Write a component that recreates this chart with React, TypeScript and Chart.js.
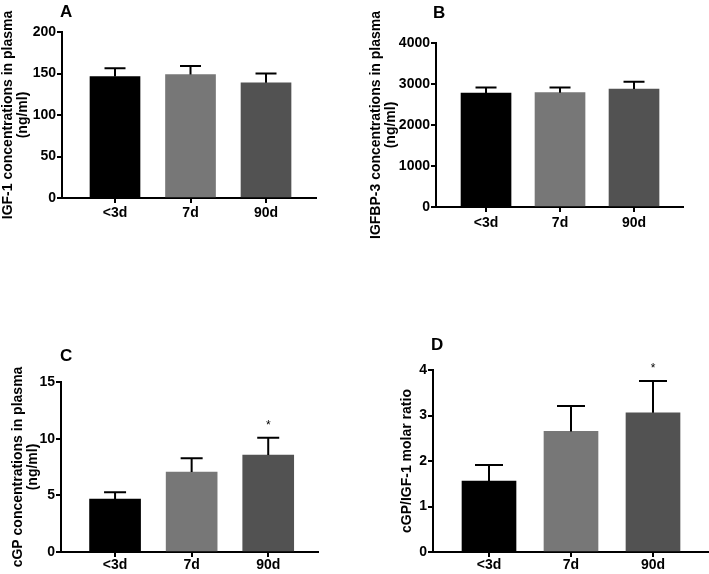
import React, { useEffect, useRef } from "react";
import { Chart, registerables } from "chart.js";

Chart.register(...registerables);

// ---------- data ----------
const categories = ["<3d", "7d", "90d"];
const barColors = ["#000000", "#777777", "#525252"];

const igf1Mean = [146.4, 148.8, 138.8];
const igf1Sem = [10.0, 10.2, 11.2];
const igf1Ticks = [0, 50, 100, 150, 200];

const igfbp3Mean = [2780, 2788, 2878];
const igfbp3Sem = [137, 129, 178];
const igfbp3Ticks = [0, 1000, 2000, 3000, 4000];

const cgpMean = [4.66, 7.06, 8.56];
const cgpSem = [0.62, 1.21, 1.52];
const cgpTicks = [0, 5, 10, 15];
const cgpSignificant = [false, false, true];

const ratioMean = [1.56, 2.65, 3.06];
const ratioSem = [0.35, 0.56, 0.7];
const ratioTicks = [0, 1, 2, 3, 4];
const ratioSignificant = [false, false, true];

const FONT = '"Liberation Sans", Arial, Helvetica, sans-serif';

type Panel = {
  letter: string;
  means: number[];
  sems: number[];
  sig: boolean[];
  yTicks: number[];
  yTitle: string[];
  box: { left: number; top: number; width: number; height: number };
  padTop: number;
  padRight: number;
  yAxisWidth: number;
  xAxisHeight: number;
  xMin: number;
  xMax: number;
  barThickness: number;
  capWidth: number;
  letterPos: [number, number];
  xLabelPad: number;
};

const panels: Panel[] = [
  {
    letter: "A",
    means: igf1Mean,
    sems: igf1Sem,
    sig: [false, false, false],
    yTicks: igf1Ticks,
    yTitle: ["IGF-1 concentrations in plasma", "(ng/ml)"],
    box: { left: 0, top: 0, width: 340, height: 240 },
    padTop: 32,
    padRight: 24,
    yAxisWidth: 62,
    xAxisHeight: 42,
    xMin: -0.702,
    xMax: 2.662,
    barThickness: 50,
    capWidth: 21,
    letterPos: [60, 17],
    xLabelPad: 2,
  },
  {
    letter: "B",
    means: igfbp3Mean,
    sems: igfbp3Sem,
    sig: [false, false, false],
    yTicks: igfbp3Ticks,
    yTitle: ["IGFBP-3 concentrations in plasma", "(ng/ml)"],
    box: { left: 368, top: 0, width: 341, height: 240 },
    padTop: 43,
    padRight: 26,
    yAxisWidth: 68,
    xAxisHeight: 33,
    xMin: -0.676,
    xMax: 2.662,
    barThickness: 50,
    capWidth: 21,
    letterPos: [65, 18],
    xLabelPad: 3,
  },
  {
    letter: "C",
    means: cgpMean,
    sems: cgpSem,
    sig: cgpSignificant,
    yTicks: cgpTicks,
    yTitle: ["cGP concentrations in plasma", "(ng/ml)"],
    box: { left: 10, top: 260, width: 330, height: 314 },
    padTop: 122,
    padRight: 22,
    yAxisWidth: 51,
    xAxisHeight: 22,
    xMin: -0.706,
    xMax: 2.65,
    barThickness: 51,
    capWidth: 22,
    letterPos: [50, 101],
    xLabelPad: 0,
  },
  {
    letter: "D",
    means: ratioMean,
    sems: ratioSem,
    sig: ratioSignificant,
    yTicks: ratioTicks,
    yTitle: ["cGP/IGF-1 molar ratio"],
    box: { left: 399, top: 260, width: 310, height: 314 },
    padTop: 110,
    padRight: 0,
    yAxisWidth: 34,
    xAxisHeight: 22,
    xMin: -0.683,
    xMax: 2.683,
    barThickness: 54,
    capWidth: 28,
    letterPos: [32, 90],
    xLabelPad: 0,
  },
];

function PanelChart({ p }: { p: Panel }) {
  const ref = useRef<HTMLCanvasElement>(null);

  useEffect(() => {
    const canvas = ref.current;
    if (!canvas) return;

    const overlay = {
      id: "overlay" + p.letter,
      afterDatasetsDraw(chart: any) {
        const { ctx, scales } = chart;
        const xs = scales.x;
        const ys = scales.y;
        ctx.save();
        ctx.strokeStyle = "#000";
        ctx.lineWidth = 2;
        p.means.forEach((m, i) => {
          const x = xs.getPixelForValue(i);
          const y0 = ys.getPixelForValue(m);
          const y1 = ys.getPixelForValue(m + p.sems[i]);
          ctx.beginPath();
          ctx.moveTo(x, y0);
          ctx.lineTo(x, y1);
          ctx.moveTo(x - p.capWidth / 2, y1);
          ctx.lineTo(x + p.capWidth / 2, y1);
          ctx.stroke();
          if (p.sig[i]) {
            ctx.fillStyle = "#000";
            ctx.font = `12px ${FONT}`;
            ctx.textAlign = "center";
            ctx.textBaseline = "alphabetic";
            ctx.fillText("*", x, y1 - 9);
          }
        });
        ctx.fillStyle = "#000";
        ctx.font = `bold 17px ${FONT}`;
        ctx.textAlign = "left";
        ctx.textBaseline = "alphabetic";
        ctx.fillText(p.letter, p.letterPos[0], p.letterPos[1]);
        ctx.restore();
      },
    };

    const yMin = p.yTicks[0];
    const yMax = p.yTicks[p.yTicks.length - 1];
    const yStep = p.yTicks[1] - p.yTicks[0];

    const chart = new Chart(canvas, {
      type: "bar",
      data: {
        datasets: [
          {
            data: p.means.map((m, i) => ({ x: i, y: m })),
            backgroundColor: barColors,
            borderWidth: 0,
            barThickness: p.barThickness,
          },
        ],
      },
      options: {
        responsive: false,
        animation: false,
        events: [],
        layout: {
          padding: { left: 0, right: p.padRight, top: p.padTop, bottom: 0 },
        },
        plugins: {
          legend: { display: false },
          tooltip: { enabled: false },
          title: { display: false },
        },
        scales: {
          x: {
            type: "linear",
            min: p.xMin,
            max: p.xMax,
            offset: false,
            afterBuildTicks: (s: any) => {
              s.ticks = categories.map((_, i) => ({ value: i }));
            },
            afterFit: (s: any) => {
              s.height = p.xAxisHeight;
            },
            ticks: {
              autoSkip: false,
              maxRotation: 0,
              minRotation: 0,
              padding: p.xLabelPad,
              color: "#000",
              font: { family: FONT, size: 14, weight: "bold" },
              callback: (v: any) => categories[v] ?? "",
            },
            grid: {
              display: true,
              offset: false,
              drawOnChartArea: false,
              drawTicks: true,
              tickLength: 5,
              color: "#000",
              lineWidth: 2,
            },
            border: { display: true, color: "#000", width: 2 },
          },
          y: {
            type: "linear",
            min: yMin,
            max: yMax,
            afterBuildTicks: (s: any) => {
              s.ticks = p.yTicks.map((v) => ({ value: v }));
            },
            afterFit: (s: any) => {
              s.width = p.yAxisWidth;
            },
            ticks: {
              stepSize: yStep,
              padding: 1,
              color: "#000",
              font: { family: FONT, size: 14, weight: "bold" },
              callback: (v: any) => String(v),
            },
            grid: {
              display: true,
              drawOnChartArea: false,
              drawTicks: true,
              tickLength: 5,
              color: "#000",
              lineWidth: 2,
            },
            border: { display: true, color: "#000", width: 2 },
            title: {
              display: true,
              text: p.yTitle,
              color: "#000",
              padding: { top: 0, bottom: 0 },
              font: { family: FONT, size: 14, weight: "bold", lineHeight: 1.1 },
            },
          },
        },
      },
      plugins: [overlay],
    } as any);

    return () => chart.destroy();
  }, [p]);

  return (
    <canvas
      ref={ref}
      width={p.box.width}
      height={p.box.height}
      style={{
        position: "absolute",
        left: p.box.left,
        top: p.box.top,
        width: p.box.width,
        height: p.box.height,
      }}
    />
  );
}

export default function App() {
  return (
    <div
      style={{
        position: "absolute",
        left: 0,
        top: 0,
        width: 709,
        height: 574,
        background: "#ffffff",
        overflow: "hidden",
      }}
    >
      {panels.map((p) => (
        <PanelChart key={p.letter} p={p} />
      ))}
    </div>
  );
}
